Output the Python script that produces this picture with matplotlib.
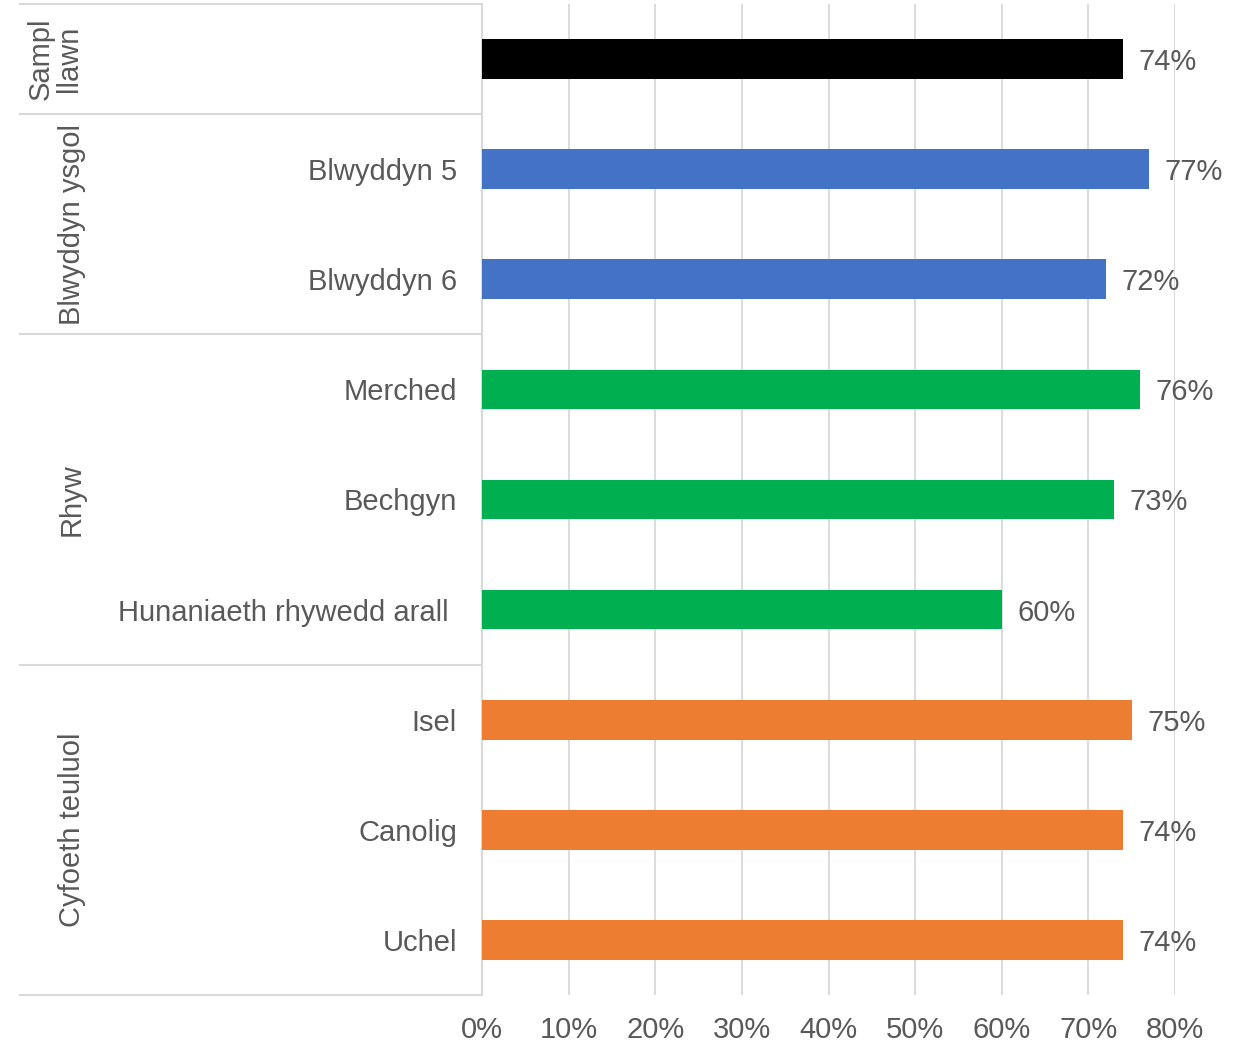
import matplotlib.pyplot as plt
from matplotlib.transforms import blended_transform_factory

categories = ["", "Blwyddyn 5", "Blwyddyn 6", "Merched", "Bechgyn",
              "Hunaniaeth rhywedd arall ", "Isel", "Canolig", "Uchel"]
values = [74, 77, 72, 76, 73, 60, 75, 74, 74]
colors = ["#000000", "#4472C4", "#4472C4", "#00B050", "#00B050",
          "#00B050", "#ED7D31", "#ED7D31", "#ED7D31"]

groups = ["Sampl\nllawn", "Blwyddyn ysgol", "Rhyw", "Cyfoeth teuluol"]
group_sizes = [1, 2, 3, 3]

plt.rcParams['font.family'] = ['Liberation Sans', 'DejaVu Sans']
text_color = "#595959"
grid_color = "#D9D9D9"
fs = 21

fig = plt.figure(figsize=(12.43, 10.43), dpi=100)
W, H = 1243, 1043
ax = fig.add_axes([482 / W, 1 - 995 / H, (1175 - 482) / W, (995 - 4) / H])

ypos = list(range(len(values)))
ax.barh(ypos, values, height=0.36, color=colors, zorder=3)
for y, v in zip(ypos, values):
    ax.text(v + 1.8, y, f"{v}%", va="center_baseline", ha="left",
            fontsize=fs, color=text_color)

ax.set_xlim(0, 80)
ax.set_ylim(len(values) - 0.5, -0.5)
ax.set_xticks(range(0, 81, 10))
ax.set_xticklabels([f"{t}%" for t in range(0, 81, 10)], fontsize=fs, color=text_color)
ax.set_yticks(ypos)
ax.set_yticklabels(categories, fontsize=fs, color=text_color)
ax.tick_params(axis="both", length=0)
ax.tick_params(axis="x", pad=15)
ax.tick_params(axis="y", pad=18)
ax.grid(axis="x", color=grid_color, linewidth=1.3, zorder=0)
for s in ["top", "right", "bottom"]:
    ax.spines[s].set_visible(False)
ax.spines["left"].set_color(grid_color)
ax.spines["left"].set_linewidth(1.5)

# group separators and labels on the left
trans = blended_transform_factory(fig.transFigure, ax.transData)
start = -0.5
ax.plot([20 / W, 482 / W], [start, start], transform=trans, color=grid_color,
        linewidth=1.5, clip_on=False)
for name, n in zip(groups, group_sizes):
    end = start + n
    ax.plot([20 / W, 482 / W], [end, end], transform=trans, color=grid_color,
            linewidth=1.5, clip_on=False)
    xg = 55 / W if "\n" in name else 72 / W
    ax.text(xg, (start + end) / 2, name, transform=trans, rotation=90,
            ha="center", va="center", fontsize=fs, color=text_color,
            multialignment="center", linespacing=1.0)
    start = end

fig.savefig("out.png", dpi=100)
